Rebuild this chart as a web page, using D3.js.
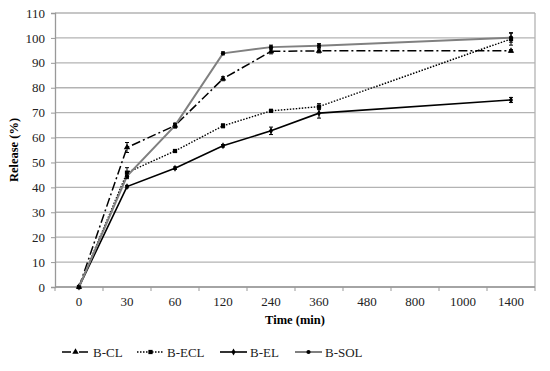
<!DOCTYPE html>
<html lang="en">
<head>
<meta charset="utf-8">
<title>Release</title>
<script src="https://d3js.org/d3.v7.min.js"></script>
<style>
body { margin: 0; background: #fff; }
</style>
</head>
<body>
<div id="chart"></div>
<script>
var width = 550, height = 371;
var margin = {top: 13, right: 15, bottom: 84, left: 55};
var FONT = "'Liberation Serif', 'DejaVu Serif', serif";

// categories on x (evenly spaced, as in the original)
var times = ["0", "30", "60", "120", "240", "360", "480", "800", "1000", "1400"];
var yTicks = [0, 10, 20, 30, 40, 50, 60, 70, 80, 90, 100, 110];

// each series: time category and release value, with error
var clTimes = ["0", "30", "60", "120", "240", "360", "1400"];
var clVals  = [0, 56, 64.8, 83.6, 94.6, 94.8, 94.8];
var clErr   = [0, 2, 1, 0.8, 1, 0.8, 0.5];

var eclTimes = ["0", "30", "60", "120", "240", "360", "1400"];
var eclVals  = [0, 45.9, 54.6, 64.7, 70.7, 72.4, 99.6];
var eclErr   = [0, 2, 0.6, 0.8, 0.6, 1.2, 2.5];

var elTimes = ["0", "30", "60", "120", "240", "360", "1400"];
var elVals  = [0, 40.3, 47.7, 56.7, 62.7, 69.8, 75.1];
var elErr   = [0, 0.5, 0.5, 0.5, 1.5, 2, 1];

var solTimes = ["0", "30", "60", "120", "240", "360", "1400"];
var solVals  = [0, 44.5, 64.8, 93.8, 96.3, 96.9, 100.1];
var solErr   = [0, 1, 0.8, 0.6, 0.8, 0.8, 1.8];

var seriesNames = ["B-CL", "B-ECL", "B-EL", "B-SOL"];

function mk(ts, vs, es) {
  return ts.map(function(t, i) { return {t: t, v: vs[i], e: es[i]}; });
}
var series = [
  {name: "B-CL", pts: mk(clTimes, clVals, clErr), color: "#000", dash: "9,3,2,3", w: 1.5, sym: d3.symbolTriangle, size: 18},
  {name: "B-ECL", pts: mk(eclTimes, eclVals, eclErr), color: "#000", dash: "1.5,1.5", w: 1.4, sym: d3.symbolSquare, size: 18},
  {name: "B-EL", pts: mk(elTimes, elVals, elErr), color: "#000", dash: null, w: 1.6, sym: d3.symbolDiamond, size: 14},
  {name: "B-SOL", pts: mk(solTimes, solVals, solErr), color: "#808080", dash: null, w: 2, sym: d3.symbolCircle, size: 14}
];

var svg = d3.select("#chart").append("svg")
  .attr("width", width).attr("height", height)
  .attr("font-family", FONT);

var x = d3.scaleBand().domain(times)
  .range([margin.left, width - margin.right]);
var y = d3.scaleLinear().domain([0, 110])
  .range([height - margin.bottom, margin.top]);

// gridlines
svg.append("g").selectAll("line").data(yTicks).enter().append("line")
  .attr("x1", margin.left).attr("x2", width - margin.right)
  .attr("y1", function(d) { return y(d); }).attr("y2", function(d) { return y(d); })
  .attr("stroke", "#b3b3b3").attr("stroke-width", 1.3);

// right border
svg.append("line")
  .attr("x1", width - margin.right).attr("x2", width - margin.right)
  .attr("y1", y(110)).attr("y2", y(0))
  .attr("stroke", "#b3b3b3").attr("stroke-width", 1.3);

// y axis
var yAxis = svg.append("g")
  .attr("transform", "translate(" + margin.left + ",0)")
  .call(d3.axisLeft(y).tickValues(yTicks).tickSize(4).tickPadding(6));
yAxis.attr("font-family", FONT).attr("font-size", 13);
yAxis.select(".domain").attr("stroke", "#999").attr("stroke-width", 1.3);
yAxis.selectAll(".tick line").attr("stroke", "#999");
yAxis.selectAll("text").attr("font-family", FONT).attr("fill", "#222");

// x axis with ticks between categories
var xg = svg.append("g").attr("transform", "translate(0," + y(0) + ")");
xg.append("line").attr("x1", margin.left).attr("x2", width - margin.right)
  .attr("stroke", "#999").attr("stroke-width", 1.3);
var edges = times.map(function(t) { return x(t); }).concat([x(times[times.length - 1]) + x.bandwidth()]);
xg.selectAll(".tk").data(edges).enter().append("line")
  .attr("x1", function(d) { return d; }).attr("x2", function(d) { return d; })
  .attr("y1", 0).attr("y2", 4).attr("stroke", "#999");
xg.selectAll(".lb").data(times).enter().append("text")
  .attr("x", function(d) { return x(d) + x.bandwidth() / 2; })
  .attr("y", 19).attr("text-anchor", "middle")
  .attr("font-family", FONT).attr("font-size", 13)
  .attr("fill", "#222").text(function(d) { return d; });

// axis titles
svg.append("text")
  .attr("x", (margin.left + width - margin.right) / 2).attr("y", 324)
  .attr("text-anchor", "middle").attr("font-family", FONT)
  .attr("font-size", 12.5).attr("font-weight", "bold")
  .text("Time (min)");
svg.append("text")
  .attr("transform", "translate(18," + ((y(0) + y(110)) / 2) + ") rotate(-90)")
  .attr("text-anchor", "middle").attr("font-family", FONT)
  .attr("font-size", 12.5).attr("font-weight", "bold")
  .text("Release (%)");

var cx = function(d) { return x(d.t) + x.bandwidth() / 2; };
var line = d3.line().x(cx).y(function(d) { return y(d.v); });

series.forEach(function(s) {
  var g = svg.append("g");
  g.append("path").datum(s.pts).attr("d", line)
    .attr("fill", "none").attr("stroke", s.color).attr("stroke-width", s.w)
    .attr("stroke-dasharray", s.dash);
  // error bars
  g.selectAll(".eb").data(s.pts.filter(function(d) { return d.e > 0; })).enter().append("path")
    .attr("d", function(d) {
      var px = cx(d), y1 = y(d.v + d.e), y2 = y(d.v - d.e);
      return "M" + (px - 2) + "," + y1 + "H" + (px + 2) + "M" + px + "," + y1 + "V" + y2 + "M" + (px - 2) + "," + y2 + "H" + (px + 2);
    })
    .attr("stroke", "#000").attr("stroke-width", 1).attr("fill", "none");
  g.selectAll(".mk").data(s.pts).enter().append("path")
    .attr("transform", function(d) { return "translate(" + cx(d) + "," + y(d.v) + ")"; })
    .attr("d", d3.symbol().type(s.sym).size(s.size))
    .attr("fill", "#000");
});

// legend
var legX = [62, 137, 220, 295];
var lg = svg.append("g").attr("transform", "translate(0,352)");
series.forEach(function(s, i) {
  var g = lg.append("g").attr("transform", "translate(" + legX[i] + ",0)");
  g.append("line").attr("x1", 0).attr("x2", 27).attr("y1", 0).attr("y2", 0)
    .attr("stroke", s.color).attr("stroke-width", s.w).attr("stroke-dasharray", s.dash);
  g.append("path").attr("transform", "translate(13.5,0)")
    .attr("d", d3.symbol().type(s.sym).size(s.size)).attr("fill", "#000");
  g.append("text").attr("x", i === 0 ? 31 : 30).attr("y", 4.5)
    .attr("font-family", FONT).attr("font-size", 13)
    .attr("fill", "#222").text(seriesNames[i]);
});
</script>
</body>
</html>
